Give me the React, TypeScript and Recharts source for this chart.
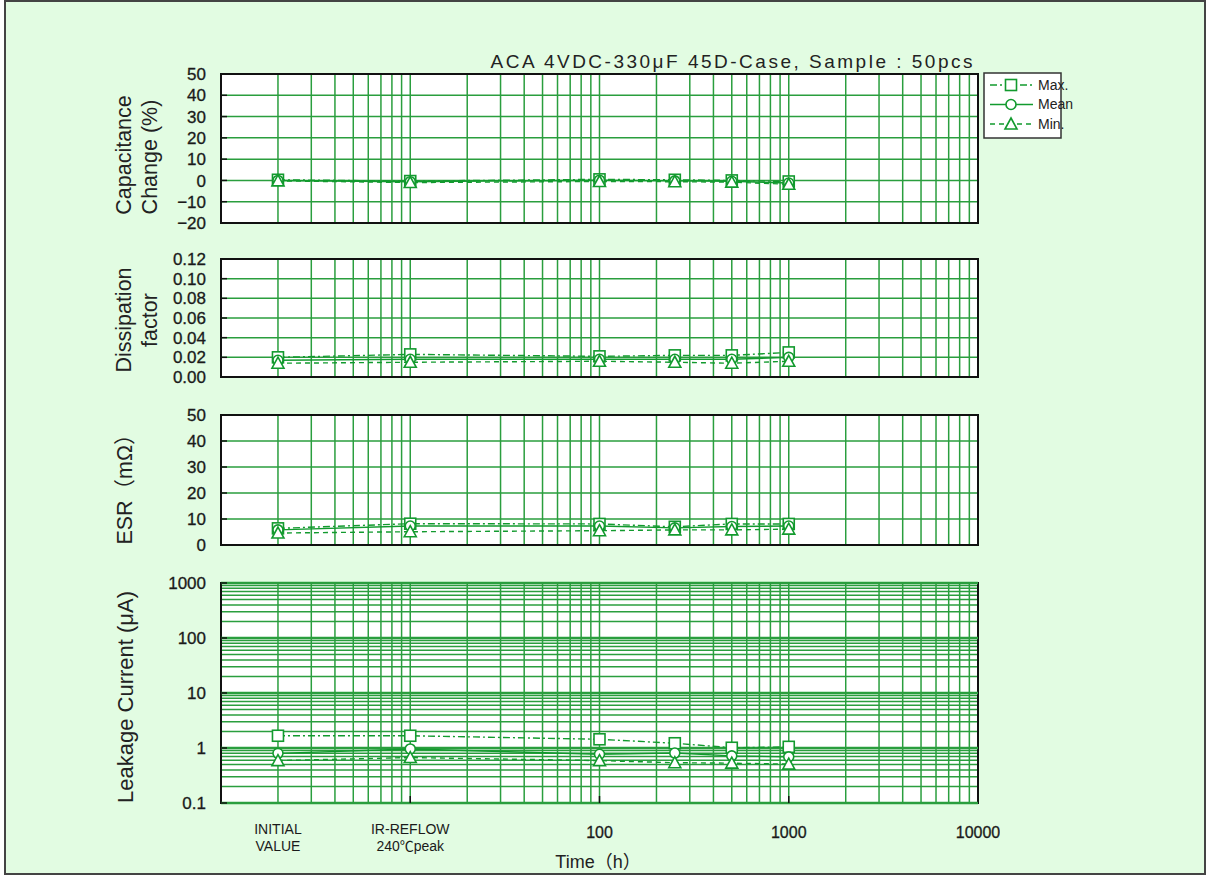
import React from 'react';
import { CartesianGrid, Line, LineChart, ReferenceArea, ReferenceLine, XAxis, YAxis } from 'recharts';

// measurement points (h); 2 = initial value, 10 = after IR reflow
const times = [2, 10, 100, 250, 500, 1000];

const capMax = [0.3, -0.3, 0.5, 0.3, 0.0, -0.5];
const capMean = [0.0, -0.6, 0.1, -0.2, -0.4, -1.2];
const capMin = [-0.2, -1.0, -0.5, -0.6, -0.8, -1.8];

const dfMax = [0.02, 0.023, 0.021, 0.022, 0.022, 0.025];
const dfMean = [0.017, 0.018, 0.018, 0.018, 0.018, 0.02];
const dfMin = [0.014, 0.015, 0.016, 0.015, 0.014, 0.016];

const esrMax = [6.4, 8.2, 8.1, 7.0, 8.1, 8.1];
const esrMean = [5.8, 7.3, 7.3, 6.6, 7.1, 7.3];
const esrMin = [4.6, 5.1, 5.5, 5.8, 5.8, 6.1];

const lcMax = [1.67, 1.67, 1.44, 1.22, 1.01, 1.05];
const lcMean = [0.8, 0.96, 0.77, 0.81, 0.72, 0.69];
const lcMin = [0.59, 0.67, 0.59, 0.54, 0.53, 0.51];

const xLabelValues = [2, 10, 100, 1000, 10000];
const xLabelLines = [['INITIAL', 'VALUE'], ['IR-REFLOW', '240℃peak'], ['100'], ['1000'], ['10000']];
const xTickMarks = [10, 100, 1000];

const capTicks = [-20, -10, 0, 10, 20, 30, 40, 50];
const dfTicks = [0, 0.02, 0.04, 0.06, 0.08, 0.1, 0.12];
const esrTicks = [0, 10, 20, 30, 40, 50];
const lcTicks = [0.1, 1, 10, 100, 1000];

const legendNames = ['Max.', 'Mean', 'Min.'];

function logGrid(from: number, to: number) {
  const out: number[] = [];
  for (let d = from; d < to; d *= 10) {
    for (let m = 1; m < 10; m++) out.push(Number((m * d).toPrecision(3)));
  }
  out.push(to);
  return out;
}

const xGridTicks = logGrid(1, 10000);
const lcGridTicks = logGrid(0.1, 1000);

const toRows = (max: number[], mean: number[], min: number[]) =>
  times.map((t, i) => ({ t, max: max[i], mean: mean[i], min: min[i] }));

const bg = '#e2fce2';
const gridGreen = '#2a9e3e';
const lineGreen = '#129a2e';
const font = "'Liberation Sans', 'Noto Sans CJK JP', sans-serif";

const dashes = ['7 3 2 3', undefined, '5 4'];

function Marker({ kind, cx, cy }: { kind: number; cx: number; cy: number }) {
  const common = { fill: '#fff', stroke: lineGreen, strokeWidth: 1.6 };
  if (kind === 0) return <rect x={cx - 5.5} y={cy - 5.5} width={11} height={11} {...common} />;
  if (kind === 1) return <circle cx={cx} cy={cy} r={5} {...common} />;
  return <path d={`M${cx},${cy - 6} L${cx + 6},${cy + 5} L${cx - 6},${cy + 5} Z`} {...common} />;
}

function XTick(props: any) {
  const { x, y, payload, showLabels } = props;
  const v = payload.value;
  const idx = xLabelValues.indexOf(v);
  return (
    <g>
      {xTickMarks.includes(v) && <line x1={x} x2={x} y1={y} y2={y - 7} stroke="#111" strokeWidth={1.5} />}
      {showLabels &&
        idx >= 0 &&
        xLabelLines[idx].map((s, i) => (
          <text
            key={s}
            x={x}
            y={y + (xLabelLines[idx].length > 1 ? 31 : 35) + i * 17}
            textAnchor="middle"
            fontFamily={font}
            fontSize={xLabelLines[idx].length > 1 ? 14 : 16}
            fill="#1a1a1a"
            stroke={xLabelLines[idx].length > 1 ? 'none' : '#1a1a1a'}
            strokeWidth={0.3}
          >
            {s}
          </text>
        ))}
    </g>
  );
}

function YTick(props: any) {
  const { x, y, payload, labels, fmt } = props;
  const v = payload.value;
  const hit = labels.some((l: number) => Math.abs(l - v) < 1e-9);
  if (!hit) return <g />;
  return (
    <g>
      <line x1={x} x2={x + 6} y1={y} y2={y} stroke="#111" strokeWidth={1.5} />
      <text
        x={x - 15}
        y={y}
        dy="0.36em"
        textAnchor="end"
        fontFamily={font}
        fontSize={17}
        fill="#1a1a1a"
        stroke="#1a1a1a"
        strokeWidth={0.3}
      >
        {fmt(v)}
      </text>
    </g>
  );
}

interface PanelProps {
  plotTop: number;
  plotHeight: number;
  rows: { t: number; max: number; mean: number; min: number }[];
  domain: [number, number];
  gridTicks: number[];
  labelTicks: number[];
  fmt: (v: number) => string;
  log?: boolean;
  showX?: boolean;
}

function Panel({ plotTop, plotHeight, rows, domain, gridTicks, labelTicks, fmt, log, showX }: PanelProps) {
  const xH = showX ? 72 : 0;
  return (
    <div style={{ position: 'absolute', left: 0, top: plotTop - 10 }}>
      <LineChart width={1000} height={plotHeight + 20 + xH} data={rows} margin={{ top: 10, right: 22, bottom: 10, left: 161 }}>
        <CartesianGrid fill="#fff" stroke={gridGreen} strokeWidth={1.5} />
        <XAxis
          dataKey="t"
          type="number"
          scale="log"
          domain={[1, 10000]}
          ticks={xGridTicks}
          interval={0}
          allowDataOverflow
          height={xH}
          tickSize={0}
          tickMargin={0}
          axisLine={false}
          tick={<XTick showLabels={showX} />}
        />
        <YAxis
          type="number"
          scale={log ? 'log' : 'linear'}
          domain={domain}
          ticks={gridTicks}
          interval={0}
          allowDataOverflow
          width={60}
          tickSize={0}
          tickMargin={0}
          axisLine={false}
          tick={<YTick labels={labelTicks} fmt={fmt} />}
        />
        {log &&
          labelTicks.map((v) => <ReferenceLine key={v} y={v} stroke={gridGreen} strokeWidth={2.5} />)}
        <ReferenceArea
          x1={1}
          x2={10000}
          y1={domain[0]}
          y2={domain[1]}
          fill="none"
          fillOpacity={0}
          stroke="#111"
          strokeWidth={2}
          ifOverflow="visible"
        />
        {(['max', 'mean', 'min'] as const).map((k, i) => (
          <Line
            key={k}
            dataKey={k}
            stroke={lineGreen}
            strokeWidth={1.4}
            strokeDasharray={dashes[i]}
            dot={(p: any) => <Marker key={`${k}-${p.index}`} kind={i} cx={p.cx} cy={p.cy} />}
            activeDot={false}
            isAnimationActive={false}
          />
        ))}
      </LineChart>
    </div>
  );
}

function Overlay() {
  const txt = { fontFamily: font, fill: '#222' };
  const rot = (x: number, y: number, s: string, size = 21.5) => (
    <text
      key={s}
      x={x}
      y={y}
      transform={`rotate(-90 ${x} ${y})`}
      textAnchor="middle"
      dominantBaseline="middle"
      fontSize={size}
      {...txt}
    >
      {s}
    </text>
  );
  return (
    <svg width={1208} height={875} style={{ position: 'absolute', left: 0, top: 0, pointerEvents: 'none' }}>
      <text x={975} y={68} textAnchor="end" fontSize={19} letterSpacing={2.5} {...txt}>
        ACA 4VDC-330μF 45D-Case, Sample : 50pcs
      </text>
      {rot(125, 155, 'Capacitance')}
      {rot(151, 157, 'Change (%)')}
      {rot(125, 320, 'Dissipation')}
      {rot(151, 320, 'factor')}
      {rot(126, 484, 'ESR（mΩ）')}
      {rot(127, 697, 'Leakage Current (μA)', 22)}
      <text x={598} y={868} textAnchor="middle" fontSize={18} {...txt}>
        Time（h）
      </text>
      <rect x={984} y={73} width={77} height={65} fill="#fff" stroke="#333" strokeWidth={1.5} />
      {legendNames.map((n, i) => {
        const y = 85 + i * 19.5;
        return (
          <g key={n}>
            <line x1={990} x2={1033} y1={y} y2={y} stroke={lineGreen} strokeWidth={1.4} strokeDasharray={dashes[i]} />
            <Marker kind={i} cx={1011} cy={y} />
            <text x={1038} y={y} dy="0.35em" fontSize={14} {...txt}>
              {n}
            </text>
          </g>
        );
      })}
    </svg>
  );
}

export default function App() {
  return (
    <div style={{ position: 'absolute', left: 0, top: 0, width: 1208, height: 875, background: '#fff' }}>
      <div
        style={{
          position: 'absolute',
          left: 4,
          top: 0,
          width: 1202,
          height: 875,
          boxSizing: 'border-box',
          border: '2px solid #444',
          background: bg,
        }}
      />
      <Panel
        plotTop={74}
        plotHeight={149}
        rows={toRows(capMax, capMean, capMin)}
        domain={[-20, 50]}
        gridTicks={capTicks}
        labelTicks={capTicks}
        fmt={(v) => (v < 0 ? `−${-v}` : `${v}`)}
      />
      <Panel
        plotTop={259}
        plotHeight={118}
        rows={toRows(dfMax, dfMean, dfMin)}
        domain={[0, 0.12]}
        gridTicks={dfTicks}
        labelTicks={dfTicks}
        fmt={(v) => v.toFixed(2)}
      />
      <Panel
        plotTop={415}
        plotHeight={130}
        rows={toRows(esrMax, esrMean, esrMin)}
        domain={[0, 50]}
        gridTicks={esrTicks}
        labelTicks={esrTicks}
        fmt={(v) => `${v}`}
      />
      <Panel
        plotTop={583}
        plotHeight={220}
        rows={toRows(lcMax, lcMean, lcMin)}
        domain={[0.1, 1000]}
        gridTicks={lcGridTicks}
        labelTicks={lcTicks}
        fmt={(v) => `${v}`}
        log
        showX
      />
      <Overlay />
    </div>
  );
}
